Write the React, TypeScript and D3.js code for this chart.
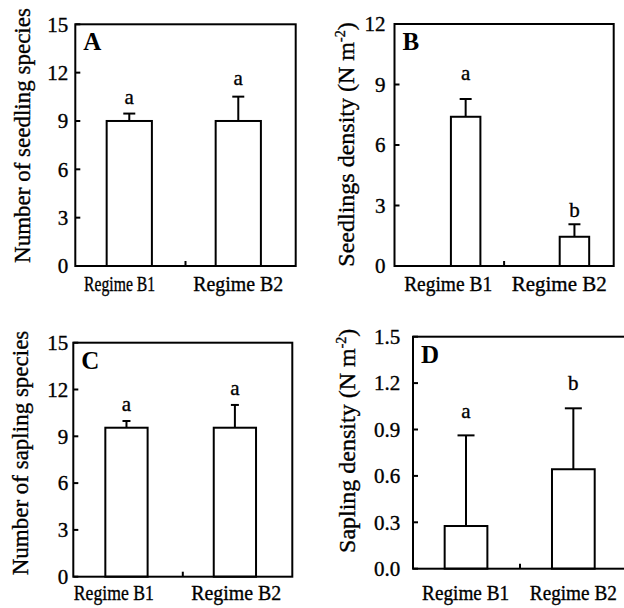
import React from "react";
import * as d3 from "d3";

const categories = ["Regime B1", "Regime B2"];

const seedlingSpecies = [9.0, 9.0];
const seedlingSpeciesErr = [0.46, 1.51];
const seedlingSpeciesSig = ["a", "a"];
const seedlingSpeciesSigAt = [10.04, 11.24];

const seedlingDensity = [7.4, 1.45];
const seedlingDensityErr = [0.88, 0.62];
const seedlingDensitySig = ["a", "b"];
const seedlingDensitySigAt = [9.22, 2.44];

const saplingSpecies = [9.55, 9.55];
const saplingSpeciesErr = [0.43, 1.46];
const saplingSpeciesSig = ["a", "a"];
const saplingSpeciesSigAt = [10.62, 11.65];

const saplingDensity = [0.276, 0.643];
const saplingDensityErr = [0.586, 0.394];
const saplingDensitySig = ["a", "b"];
const saplingDensitySigAt = [0.972, 1.155];

const ticksSpecies = [0, 3, 6, 9, 12, 15];
const ticksSeedDensity = [0, 3, 6, 9, 12];
const ticksSapDensity = [0, 0.3, 0.6, 0.9, 1.2, 1.5];

const FONT = "'Liberation Serif', 'Times New Roman', Times, serif";
const TXT = { fontFamily: FONT, fill: "#000", stroke: "#000", strokeWidth: 0.35 };

type Panel = {
  letter: string;
  values: number[];
  errs: number[];
  sig: string[];
  sigAt: number[];
  ticks: number[];
  fmt: (v: number) => string;
  domain: [number, number];
  frame: { x0: number; x1: number; y0: number; y1: number };
  band: { pi: number; po: number; align: number };
  cap: number;
  tickGap: number;
  yLabel: { x: number; y: number; main: string; unit: boolean; size: number };
  catBaseline: number;
  labelDx: number[];
  labelW: number[];
};

const panels: Panel[] = [
  {
    letter: "A",
    values: seedlingSpecies,
    errs: seedlingSpeciesErr,
    sig: seedlingSpeciesSig,
    sigAt: seedlingSpeciesSigAt,
    ticks: ticksSpecies,
    fmt: (v) => String(v),
    domain: [0, 15],
    frame: { x0: 75.3, x1: 295.7, y0: 24.3, y1: 266 },
    band: { pi: 0.585, po: 0.3035, align: 0.474 },
    cap: 12,
    tickGap: 7,
    yLabel: { x: 29.5, y: 135.5, main: "Number of seedling species", unit: false, size: 23 },
    catBaseline: 291,
    labelDx: [-9.7, 0],
    labelW: [71, 90],
  },
  {
    letter: "B",
    values: seedlingDensity,
    errs: seedlingDensityErr,
    sig: seedlingDensitySig,
    sigAt: seedlingDensitySigAt,
    ticks: ticksSeedDensity,
    fmt: (v) => String(v),
    domain: [0, 12],
    frame: { x0: 394.5, x1: 613.7, y0: 24, y1: 266 },
    band: { pi: 0.729, po: 0.372, align: 0.697 },
    cap: 12,
    tickGap: 9,
    yLabel: { x: 353.7, y: 144.5, main: "Seedlings density ", unit: true, size: 24 },
    catBaseline: 291,
    labelDx: [-17.5, -15.2],
    labelW: [88, 95],
  },
  {
    letter: "C",
    values: saplingSpecies,
    errs: saplingSpeciesErr,
    sig: saplingSpeciesSig,
    sigAt: saplingSpeciesSigAt,
    ticks: ticksSpecies,
    fmt: (v) => String(v),
    domain: [0, 15],
    frame: { x0: 73.3, x1: 292.3, y0: 342.7, y1: 576.7 },
    band: { pi: 0.61, po: 0.315, align: 0.469 },
    cap: 8,
    tickGap: 5,
    yLabel: { x: 28.3, y: 453, main: "Number of sapling species", unit: false, size: 23 },
    catBaseline: 600,
    labelDx: [-12.7, 1.3],
    labelW: [80, 90],
  },
  {
    letter: "D",
    values: saplingDensity,
    errs: saplingDensityErr,
    sig: saplingDensitySig,
    sigAt: saplingDensitySigAt,
    ticks: ticksSapDensity,
    fmt: d3.format(".1f"),
    domain: [0, 1.5],
    frame: { x0: 413, x1: 627, y0: 336.7, y1: 568.7 },
    band: { pi: 0.602, po: 0.298, align: 0.495 },
    cap: 17,
    tickGap: 12.7,
    yLabel: { x: 354.7, y: 440.8, main: "Sapling density ", unit: true, size: 24 },
    catBaseline: 600,
    labelDx: [-0.4, 0],
    labelW: [87, 87],
  },
];

function PanelView({ p }: { p: Panel }) {
  const { x0, x1, y0, y1 } = p.frame;
  const x = d3
    .scaleBand<string>()
    .domain(categories)
    .range([x0, x1])
    .paddingInner(p.band.pi)
    .paddingOuter(p.band.po)
    .align(p.band.align);
  const y = d3.scaleLinear().domain(p.domain).range([y1, y0]);
  const bw = x.bandwidth();
  const mid = (x0 + x1) / 2;
  return (
    <g>
      {categories.map((c, i) => {
        const bx = x(c)!;
        const cx = bx + bw / 2;
        const top = y(p.values[i]);
        const et = y(p.values[i] + p.errs[i]);
        return (
          <g key={c}>
            <line x1={cx} x2={cx} y1={top} y2={et} stroke="#000" strokeWidth={2} />
            <line x1={cx - p.cap / 2} x2={cx + p.cap / 2} y1={et} y2={et} stroke="#000" strokeWidth={2} />
            <rect x={bx} y={top} width={bw} height={y1 - top} fill="#fff" stroke="#000" strokeWidth={2} />
            <text x={cx} y={y(p.sigAt[i])} textAnchor="middle" fontSize={21} {...TXT}>
              {p.sig[i]}
            </text>
            <text
              x={cx + p.labelDx[i]}
              y={p.catBaseline}
              textAnchor="middle"
              fontSize={21}
              textLength={p.labelW[i]}
              lengthAdjust="spacingAndGlyphs"
              {...TXT}
            >
              {c}
            </text>
          </g>
        );
      })}
      <rect x={x0} y={y0} width={x1 - x0} height={y1 - y0} fill="none" stroke="#000" strokeWidth={2} />
      {p.ticks.map((t) => (
        <g key={t}>
          <line x1={x0} x2={x0 + 5} y1={y(t)} y2={y(t)} stroke="#000" strokeWidth={2} />
          <text x={x0 - p.tickGap} y={y(t)} dy="0.35em" textAnchor="end" fontSize={21} {...TXT}>
            {p.fmt(t)}
          </text>
        </g>
      ))}
      <line x1={mid} x2={mid} y1={y1} y2={y1 - 5} stroke="#000" strokeWidth={2} />
      <text x={x0 + 8} y={y0 + 26} fontFamily={FONT} fontSize={25} fontWeight="bold" fill="#000">
        {p.letter}
      </text>
      <text
        transform={`translate(${p.yLabel.x},${p.yLabel.y}) rotate(-90)`}
        textAnchor="middle"
        fontSize={p.yLabel.size}
        {...TXT}
      >
        {p.yLabel.main}
        {p.yLabel.unit ? (
          <>
            <tspan>(N m</tspan>
            <tspan fontSize={14} dy={-9}>-2</tspan>
            <tspan dy={9}>)</tspan>
          </>
        ) : null}
      </text>
    </g>
  );
}

export default function App() {
  return (
    <svg width={624} height={608} style={{ position: "absolute", left: 0, top: 0, background: "#fff" }}>
      <rect x={0} y={0} width={624} height={608} fill="#fff" />
      {panels.map((p) => (
        <PanelView key={p.letter} p={p} />
      ))}
    </svg>
  );
}
